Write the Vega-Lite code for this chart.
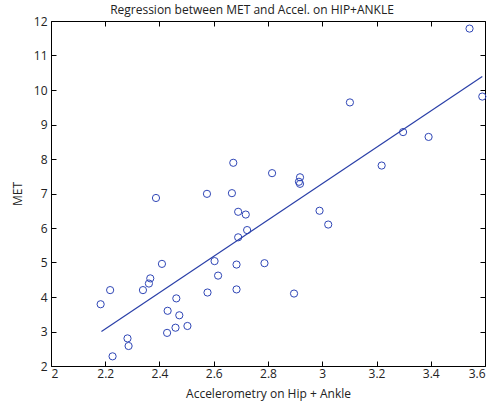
{
  "$schema": "https://vega.github.io/schema/vega-lite/v6.json",
  "width": 434,
  "height": 345,
  "autosize": "none",
  "padding": {"left": 51, "top": 21, "right": 13, "bottom": 39},
  "title": {"text": "Regression between MET and Accel. on HIP+ANKLE", "font": "Open Sans", "fontSize": 12, "fontWeight": "normal", "color": "#222", "offset": -2, "dx": -16},
  "datasets": {
    "points": [
      {"accel": 2.183, "met": 3.79}, {"accel": 2.218, "met": 4.2}, {"accel": 2.227, "met": 2.28},
      {"accel": 2.282, "met": 2.8}, {"accel": 2.286, "met": 2.58}, {"accel": 2.339, "met": 4.2},
      {"accel": 2.361, "met": 4.39}, {"accel": 2.366, "met": 4.54}, {"accel": 2.387, "met": 6.87},
      {"accel": 2.409, "met": 4.96}, {"accel": 2.43, "met": 3.6}, {"accel": 2.428, "met": 2.96},
      {"accel": 2.459, "met": 3.11}, {"accel": 2.462, "met": 3.96}, {"accel": 2.473, "met": 3.47},
      {"accel": 2.503, "met": 3.16}, {"accel": 2.575, "met": 6.99}, {"accel": 2.577, "met": 4.13},
      {"accel": 2.603, "met": 5.04}, {"accel": 2.616, "met": 4.62}, {"accel": 2.667, "met": 7.01},
      {"accel": 2.672, "met": 7.89}, {"accel": 2.684, "met": 4.94}, {"accel": 2.684, "met": 4.22},
      {"accel": 2.69, "met": 6.47}, {"accel": 2.69, "met": 5.73}, {"accel": 2.718, "met": 6.39},
      {"accel": 2.723, "met": 5.94}, {"accel": 2.787, "met": 4.98}, {"accel": 2.815, "met": 7.59},
      {"accel": 2.896, "met": 4.1}, {"accel": 2.918, "met": 7.47}, {"accel": 2.914, "met": 7.34},
      {"accel": 2.918, "met": 7.28}, {"accel": 2.99, "met": 6.5}, {"accel": 3.022, "met": 6.1},
      {"accel": 3.102, "met": 9.64}, {"accel": 3.219, "met": 7.81}, {"accel": 3.298, "met": 8.78},
      {"accel": 3.392, "met": 8.64}, {"accel": 3.543, "met": 11.78}, {"accel": 3.59, "met": 9.81}
    ],
    "fit": [{"accel": 2.186, "met": 3.0}, {"accel": 3.59, "met": 10.39}]
  },
  "layer": [
    {
      "data": {"name": "points"},
      "mark": {"type": "point", "shape": "circle", "filled": false, "size": 52, "strokeWidth": 1, "color": "#2f46b6", "opacity": 1},
      "encoding": {
        "x": {"field": "accel", "type": "quantitative", "scale": {"domain": [2, 3.6], "nice": false, "zero": false},
          "axis": {"orient": "bottom", "title": "Accelerometry on Hip + Ankle", "values": [2, 2.2, 2.4, 2.6, 2.8, 3, 3.2, 3.4, 3.6], "labelExpr": "'' + datum.value", "labelPadding": 7, "titlePadding": 9}},
        "y": {"field": "met", "type": "quantitative", "scale": {"domain": [2, 12], "nice": false, "zero": false},
          "axis": {"orient": "left", "title": "MET", "values": [2, 3, 4, 5, 6, 7, 8, 9, 10, 11, 12], "labelExpr": "'' + datum.value", "labelPadding": 9, "titlePadding": 9}}
      }
    },
    {
      "data": {"name": "fit"},
      "mark": {"type": "line", "color": "#2a3fa8", "strokeWidth": 1.2},
      "encoding": {
        "x": {"field": "accel", "type": "quantitative", "scale": {"domain": [2, 3.6], "nice": false, "zero": false},
          "axis": {"orient": "top", "title": null, "labels": false, "values": [2, 2.2, 2.4, 2.6, 2.8, 3, 3.2, 3.4, 3.6]}},
        "y": {"field": "met", "type": "quantitative", "scale": {"domain": [2, 12], "nice": false, "zero": false},
          "axis": {"orient": "right", "title": null, "labels": false, "values": [2, 3, 4, 5, 6, 7, 8, 9, 10, 11, 12]}}
      }
    },
    {
      "mark": {"type": "text", "align": "left", "baseline": "middle", "font": "Open Sans", "fontSize": 11.5, "color": "#222"},
      "encoding": {
        "x": {"datum": 2.151, "type": "quantitative", "axis": null},
        "y": {"datum": 10.84, "type": "quantitative", "axis": null},
        "text": {"value": "R"}
      }
    },
    {
      "mark": {"type": "text", "align": "left", "baseline": "middle", "font": "Open Sans", "fontSize": 9, "color": "#222", "dx": 11, "dy": -5},
      "encoding": {
        "x": {"datum": 2.151, "type": "quantitative", "axis": null},
        "y": {"datum": 10.84, "type": "quantitative", "axis": null},
        "text": {"value": "2"}
      }
    },
    {
      "mark": {"type": "text", "align": "left", "baseline": "middle", "font": "Open Sans", "fontSize": 11, "color": "#222", "dx": 18},
      "encoding": {
        "x": {"datum": 2.151, "type": "quantitative", "axis": null},
        "y": {"datum": 10.84, "type": "quantitative", "axis": null},
        "text": {"value": "= 0.7147"}
      }
    }
  ],
  "resolve": {"axis": {"x": "independent", "y": "independent"}},
  "config": {
    "view": {"stroke": "#000", "strokeWidth": 1},
    "axis": {
      "domain": false, "grid": false, "ticks": true, "tickSize": -5, "tickColor": "#000", "tickWidth": 1,
      "labelFont": "Open Sans", "labelFontSize": 12, "labelColor": "#222",
      "titleFont": "Open Sans", "titleFontSize": 12, "titleFontWeight": "normal", "titleColor": "#222"
    }
  }
}
